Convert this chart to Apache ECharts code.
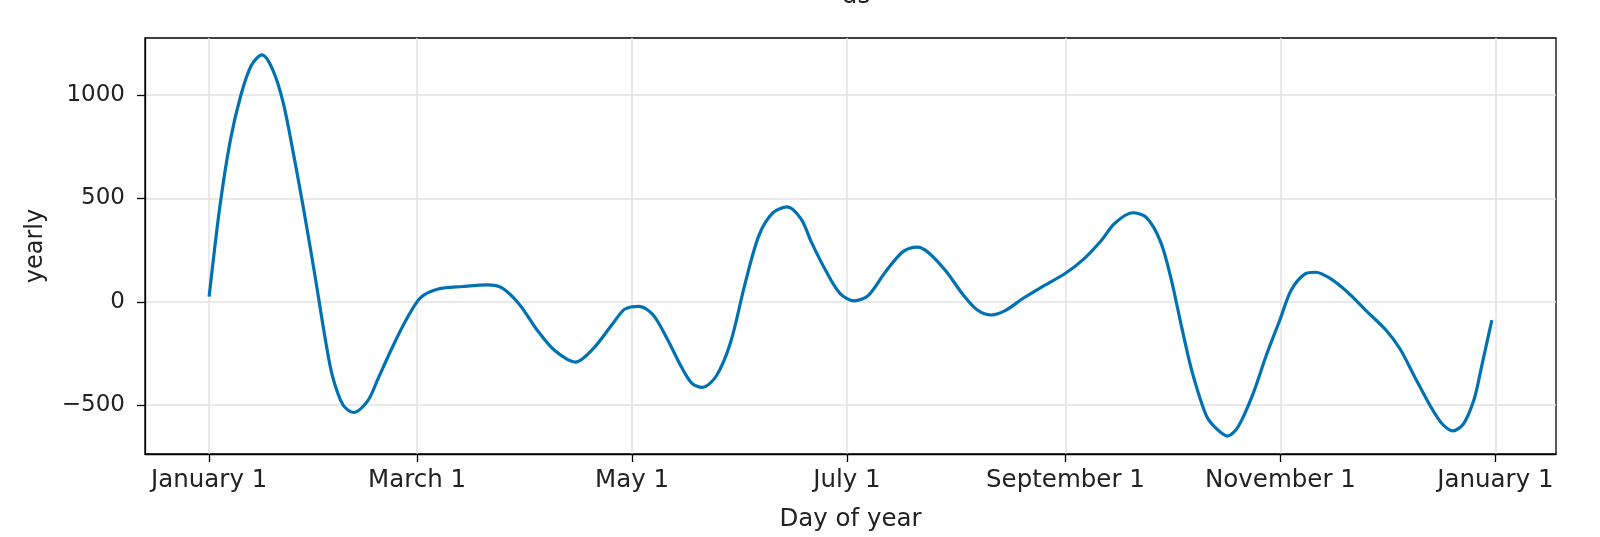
<!DOCTYPE html>
<html>
<head>
<meta charset="utf-8">
<script src="https://cdn.jsdelivr.net/npm/echarts@6/dist/echarts.min.js"></script>
<style>
html,body{margin:0;padding:0;background:#fff;}
#chart{width:1600px;height:537px;}
</style>
</head>
<body>
<div id="chart"></div>
<script>
// Day of year (0 = January 1)
const days = [0,3,6,9,12,15,18,21,24,27,30,33,35,38,41,45,48,52,56,60,65,72,79,83,88,93,98,104,109,115,118,122,126,130,134,137,140,144,148,152,156,160,164,168,171,175,179,183,187,192,197,201,204,209,214,218,222,226,231,236,243,248,253,257,262,266,270,273,276,279,283,286,289,292,296,300,304,307,311,314,318,323,328,334,338,342,347,350,353,356,359,361,364];
// yearly component values
const yearly = [25,455,780,1000,1145,1195,1125,965,710,430,130,-185,-360,-500,-536,-480,-370,-220,-85,20,62,74,82,68,-12,-135,-235,-292,-227,-95,-35,-22,-64,-180,-315,-395,-414,-357,-195,82,320,431,459,400,285,150,41,4,30,147,244,265,240,150,33,-40,-64,-42,17,69,138,204,293,380,431,407,290,110,-125,-343,-552,-617,-650,-605,-456,-259,-81,55,135,143,114,47,-38,-138,-230,-360,-518,-593,-625,-590,-470,-320,-89];
// x tick positions and labels
const xTickDays = [0,59,120,181,243,304,365];
const xTickLabels = ['January 1','March 1','May 1','July 1','September 1','November 1','January 1'];
// y ticks
const yTicks = [-500,0,500,1000];

const FONT = 'DejaVu Sans';
const seriesData = days.map((d,i)=>[d, yearly[i]]);

const chart = echarts.init(document.getElementById('chart'), null, {renderer:'canvas'});
chart.setOption({
  animation:false,
  backgroundColor:'#ffffff',
  title:{
    text:'ds', left:851, top:-21, textAlign:'center',
    textStyle:{fontFamily:FONT, fontSize:24.5, fontWeight:'normal', color:'#222'}
  },
  grid:{left:145, right:44, top:38, bottom:83, show:true, borderColor:'#000', borderWidth:1.3, backgroundColor:'transparent'},
  xAxis:{
    type:'value', min:-18.2, max:382.2,
    name:'Day of year', nameLocation:'middle', nameGap:53,
    nameTextStyle:{fontFamily:FONT, fontSize:24.5, color:'#222'},
    axisLine:{show:true, onZero:false, lineStyle:{color:'#000', width:1.3}},
    axisTick:{show:true, length:8, lineStyle:{color:'#000', width:1.3}, customValues:xTickDays},
    axisLabel:{customValues:xTickDays, margin:14, fontFamily:FONT, fontSize:24.5, color:'#222',
      formatter:(v)=>{const i=xTickDays.indexOf(v); return i>=0?xTickLabels[i]:'';}},
    splitLine:{show:true, lineStyle:{color:'#e2e2e2', width:1.5}, customValues:xTickDays}
  },
  yAxis:{
    type:'value', min:-737, max:1277,
    name:'yearly', nameLocation:'middle', nameGap:97,
    nameTextStyle:{fontFamily:FONT, fontSize:24, color:'#222'},
    axisLine:{show:true, onZero:false, lineStyle:{color:'#000', width:1.3}},
    axisTick:{show:true, length:8, lineStyle:{color:'#000', width:1.3}, customValues:yTicks},
    axisLabel:{customValues:yTicks, margin:20, fontFamily:FONT, fontSize:23, color:'#222',
      formatter:(v)=> v<0 ? '\u2212'+Math.abs(v) : String(v)},
    splitLine:{show:true, lineStyle:{color:'#e2e2e2', width:1.5}, customValues:yTicks}
  },
  series:[{
    type:'line', data:seriesData, smooth:0.3, showSymbol:false,
    lineStyle:{color:'#0072B2', width:3.2}, itemStyle:{color:'#0072B2'}
  }]
});
</script>
</body>
</html>
